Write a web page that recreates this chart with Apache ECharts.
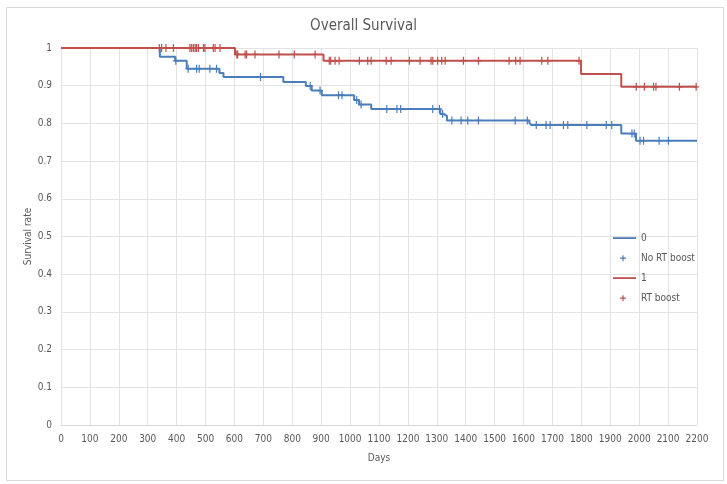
<!DOCTYPE html>
<html>
<head>
<meta charset="utf-8">
<script src="https://cdn.jsdelivr.net/npm/echarts@6/dist/echarts.min.js"></script>
<style>
html,body{margin:0;padding:0;background:#fff;}
#chart{width:727px;height:484px;}
</style>
</head>
<body>
<div id="chart"></div>
<script>
// ---- Data ----
const xTicks = [0,100,200,300,400,500,600,700,800,900,1000,1100,1200,1300,1400,1500,1600,1700,1800,1900,2000,2100,2200];
const yTicks = [0,0.1,0.2,0.3,0.4,0.5,0.6,0.7,0.8,0.9,1];

// Group "0" (No RT boost): event days and survival after each event
const blueEventDays = [342, 395, 435, 548, 562, 769, 847, 867, 902, 1014, 1031, 1073, 1312, 1322, 1335, 1620, 1626, 1938, 1989];
const blueEventSurv = [0.977, 0.966, 0.945, 0.934, 0.923, 0.910, 0.899, 0.887, 0.875, 0.862, 0.850, 0.838, 0.825, 0.820, 0.808, 0.802, 0.796, 0.773, 0.754];
const blueCensorDays = [397, 440, 469, 478, 515, 538, 690, 862, 896, 960, 972, 1023, 1038, 1127, 1162, 1175, 1286, 1309, 1320, 1352, 1384, 1407, 1444, 1571, 1613, 1644, 1678, 1692, 1738, 1753, 1819, 1886, 1905, 1975, 1983, 2003, 2015, 2069, 2101];

// Group "1" (RT boost)
const redEventDays = [602, 908, 1799, 1938];
const redEventSurv = [0.983, 0.966, 0.931, 0.897];
const redCensorDays = [340, 348, 363, 389, 446, 452, 458, 464, 469, 475, 493, 498, 527, 533, 550, 608, 611, 637, 642, 671, 754, 807, 879, 928, 933, 948, 962, 1032, 1061, 1073, 1125, 1142, 1205, 1242, 1280, 1286, 1303, 1317, 1329, 1392, 1444, 1550, 1573, 1588, 1663, 1684, 1792, 1990, 2018, 2050, 2058, 2139, 2197];

const xMax = 2200;

// ---- Build series data ----
function stepData(days, surv){
  const d = [[0,1]];
  for (let i=0;i<days.length;i++) d.push([days[i], surv[i]]);
  d.push([xMax, surv[surv.length-1]]);
  return d;
}
function survAt(t, days, surv){
  let s = 1;
  for (let i=0;i<days.length;i++){ if (days[i] <= t) s = surv[i]; }
  return s;
}
function censorData(cd, days, surv){
  return cd.map(t => [t, survAt(t, days, surv)]);
}

const BLUE = '#4A7EBB';
const RED = '#C0504D';
const TXT = '#595959';
const FONT = "'Liberation Sans Narrow','DejaVu Sans Condensed','Open Sans',sans-serif";

const plusSym = 'path://M2.4,0 h1.2 v8 h-1.2 z M0,3.4 h6 v1.2 h-6 z';
const legendPlus = 'path://M0,0 M23,14 M9.4,4.2 h1.2 v6 h-1.2 z M7,6.6 h6 v1.2 h-6 z';
const legendLine = 'path://M0,0 M23,14 M0,6.2 h23 v1.8 h-23 z';

const chart = echarts.init(document.getElementById('chart'), null, {renderer:'canvas'});
chart.setOption({
  animation: false,
  backgroundColor: '#fff',
  textStyle: {fontFamily: FONT},
  graphic: [{
    type: 'rect', left: 4, top: 5, z: -10,
    shape: {width: 717, height: 473},
    style: {fill: 'none', stroke: '#d9d9d9', lineWidth: 1}
  }],
  title: {
    text: 'Overall Survival', left: 'center', top: 14,
    textStyle: {fontFamily: FONT, fontSize: 15, fontWeight: 'normal', color: TXT}
  },
  grid: {left: 61, right: 30, top: 48, bottom: 59, containLabel: false},
  legend: {
    orient: 'vertical', left: 613, top: 231, padding: 0,
    itemWidth: 23, itemHeight: 14, itemGap: 6,
    textStyle: {fontFamily: FONT, fontSize: 10, color: TXT},
    data: [
      {name: '0', icon: legendLine},
      {name: 'No RT boost', icon: legendPlus},
      {name: '1', icon: legendLine},
      {name: 'RT boost', icon: legendPlus}
    ]
  },
  xAxis: {
    type: 'value', min: 0, max: xMax, interval: 100,
    name: 'Days', nameLocation: 'middle', nameGap: 28,
    nameTextStyle: {fontFamily: FONT, fontSize: 10, color: TXT},
    axisLine: {show: true, lineStyle: {color: '#d9d9d9'}},
    axisTick: {show: false},
    axisLabel: {fontFamily: FONT, fontSize: 10, color: TXT, margin: 9, formatter: v => String(v)},
    splitLine: {show: true, lineStyle: {color: '#e3e3e3'}}
  },
  yAxis: {
    type: 'value', min: 0, max: 1, interval: 0.1,
    name: 'Survival rate', nameLocation: 'middle', nameGap: 28, nameMoveOverlap: false,
    nameTextStyle: {fontFamily: FONT, fontSize: 10, color: TXT},
    axisLine: {show: false},
    axisTick: {show: false},
    axisLabel: {fontFamily: FONT, fontSize: 10, color: TXT, margin: 9, formatter: v => String(Math.round(v*10)/10)},
    splitLine: {show: true, lineStyle: {color: '#e3e3e3'}}
  },
  series: [
    {
      name: '0', type: 'line', step: 'end', symbol: 'none', showSymbol: false,
      data: stepData(blueEventDays, blueEventSurv),
      lineStyle: {color: BLUE, width: 2}, itemStyle: {color: BLUE}, z: 3
    },
    {
      name: 'No RT boost', type: 'scatter', symbol: plusSym, symbolSize: [6,8],
      data: censorData(blueCensorDays, blueEventDays, blueEventSurv),
      itemStyle: {color: BLUE, opacity: 1}, z: 4
    },
    {
      name: '1', type: 'line', step: 'end', symbol: 'none', showSymbol: false,
      data: stepData(redEventDays, redEventSurv),
      lineStyle: {color: RED, width: 2}, itemStyle: {color: RED}, z: 3
    },
    {
      name: 'RT boost', type: 'scatter', symbol: plusSym, symbolSize: [6,8],
      data: censorData(redCensorDays, redEventDays, redEventSurv),
      itemStyle: {color: RED, opacity: 1}, z: 4
    }
  ]
});
</script>
</body>
</html>
